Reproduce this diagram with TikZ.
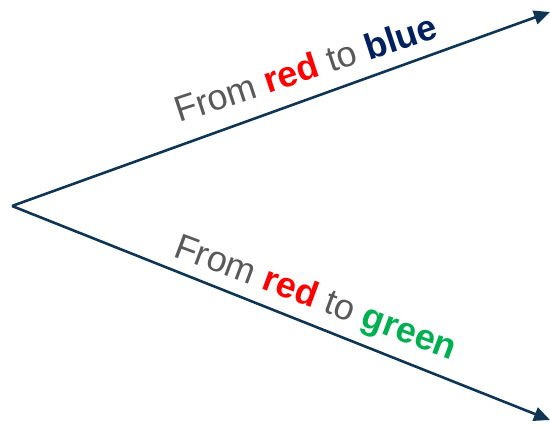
\documentclass[tikz,border=0pt]{standalone}
\usepackage{fontspec}
\setmainfont{Liberation Sans}
\usetikzlibrary{arrows.meta}
\definecolor{linec}{HTML}{0F3555}
\definecolor{txtgrey}{HTML}{595959}
\definecolor{myred}{HTML}{FF0000}
\definecolor{myblue}{HTML}{002060}
\definecolor{mygreen}{HTML}{00B050}
\tikzset{
  arrowline/.style={draw=linec, line width=2.6pt, -{Triangle[length=16pt,width=14pt]}},
  lbl/.style={inner sep=0pt, text=txtgrey, font=\fontsize{36}{40}\selectfont}
}
\begin{document}
\begin{tikzpicture}[x=1pt,y=-1pt]
\useasboundingbox (0,0) rectangle (550,428);
\coordinate (o) at (12,206);
\coordinate (b) at (550,12);
\coordinate (g) at (550,420);
\draw[arrowline] (o) -- (b);
\draw[arrowline] (o) -- (g);
\node[lbl, rotate=18.2, anchor=base west] (t1) at (179,123)
  {From \textbf{\textcolor{myred}{red}} to \textbf{\textcolor{myblue}{blue}}};
\node[lbl, rotate=-20.4, anchor=base west] (t2) at (172,256)
  {From \textbf{\textcolor{myred}{red}} to \textbf{\textcolor{mygreen}{green}}};
\end{tikzpicture}
\end{document}
